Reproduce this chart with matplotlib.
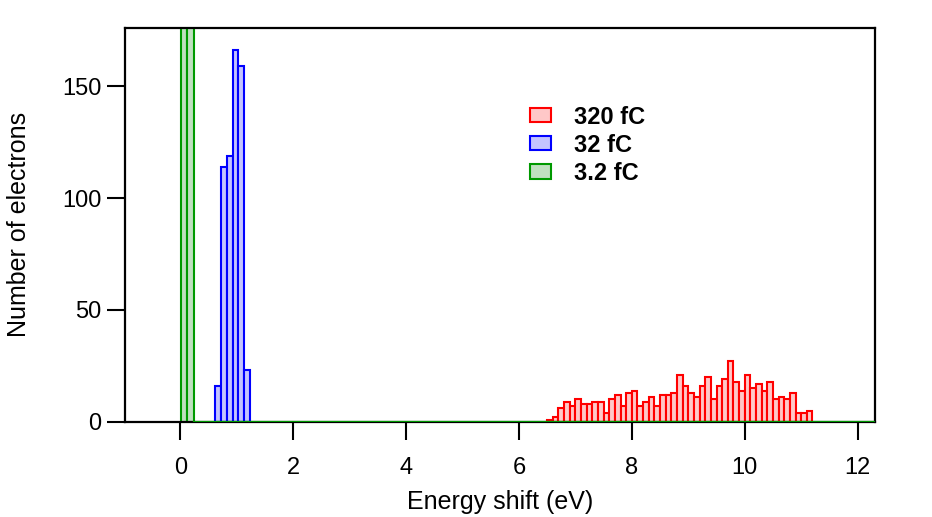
import numpy as np
import matplotlib
matplotlib.use("Agg")
import matplotlib.pyplot as plt
from matplotlib.patches import Patch

plt.rcParams['font.family'] = ['Liberation Sans', 'DejaVu Sans']

# histogram data (bin left edges, bin width, counts)
red_start = 6.5
red_width = 0.1
red_counts = [1, 2, 6, 9, 7, 10, 8, 8, 9, 9,
              4, 10, 12, 7, 13, 14, 7, 9, 11, 7,
              12, 12, 13, 21, 16, 13, 11, 16, 20, 10,
              16, 19, 27, 18, 14, 21, 15, 17, 14, 18,
              10, 11, 10, 13, 4, 4, 5]

blue_start = 0.62
blue_width = 0.103
blue_counts = [16, 114, 119, 166, 159, 23]

green_edges = [0.01, 0.12, 0.24]
green_counts = [290, 310]

labels = ['320 fC', '32 fC', '3.2 fC']

fig = plt.figure(figsize=(9.32, 5.17), dpi=100)
ax = fig.add_axes([0.134, 0.184, 0.805, 0.762])

xmin, xmax = -0.98, 12.31

red_left = red_start + red_width * np.arange(len(red_counts))
blue_left = blue_start + blue_width * np.arange(len(blue_counts))
green_left = np.array(green_edges[:-1])
green_w = np.diff(green_edges)

ax.bar(red_left, red_counts, width=red_width, align='edge',
       facecolor='#ffc8c8', edgecolor='#ff0000', linewidth=1.5, zorder=2)
ax.bar(blue_left, blue_counts, width=blue_width, align='edge',
       facecolor='#c4c4ff', edgecolor='#0000ff', linewidth=1.5, zorder=2)
ax.bar(green_left, green_counts, width=green_w, align='edge',
       facecolor='#c0e0c0', edgecolor='#009900', linewidth=1.5, zorder=2)
# empty green bins run along the baseline
ax.plot([green_edges[-1], xmax], [0, 0], color='#009900', lw=1.6, zorder=3)

ax.set_xlim(xmin, xmax)
ax.set_ylim(0, 176)
ax.set_xticks([0, 2, 4, 6, 8, 10, 12])
ax.set_yticks([0, 50, 100, 150])

for s in ax.spines.values():
    s.set_linewidth(1.6)
ax.tick_params(direction='out', length=13, width=1.5, labelsize=17)
ax.tick_params(axis='x', pad=12)
ax.tick_params(axis='y', pad=4)

ax.set_xlabel('Energy shift (eV)', fontsize=18, labelpad=8)
ax.set_ylabel('Number of electrons', fontsize=18, labelpad=22)

handles = [Patch(facecolor='#ffc8c8', edgecolor='#ff0000', lw=1.5),
           Patch(facecolor='#c4c4ff', edgecolor='#0000ff', lw=1.5),
           Patch(facecolor='#c0e0c0', edgecolor='#009900', lw=1.5)]
ax.legend(handles, labels, loc='upper left', bbox_to_anchor=(0.528, 0.827),
          frameon=False, prop={'weight': 'bold', 'size': 17},
          handlelength=0.85, handleheight=0.55, labelspacing=0.22,
          handletextpad=1.0, borderaxespad=0)

fig.savefig('out.png', dpi=100)
